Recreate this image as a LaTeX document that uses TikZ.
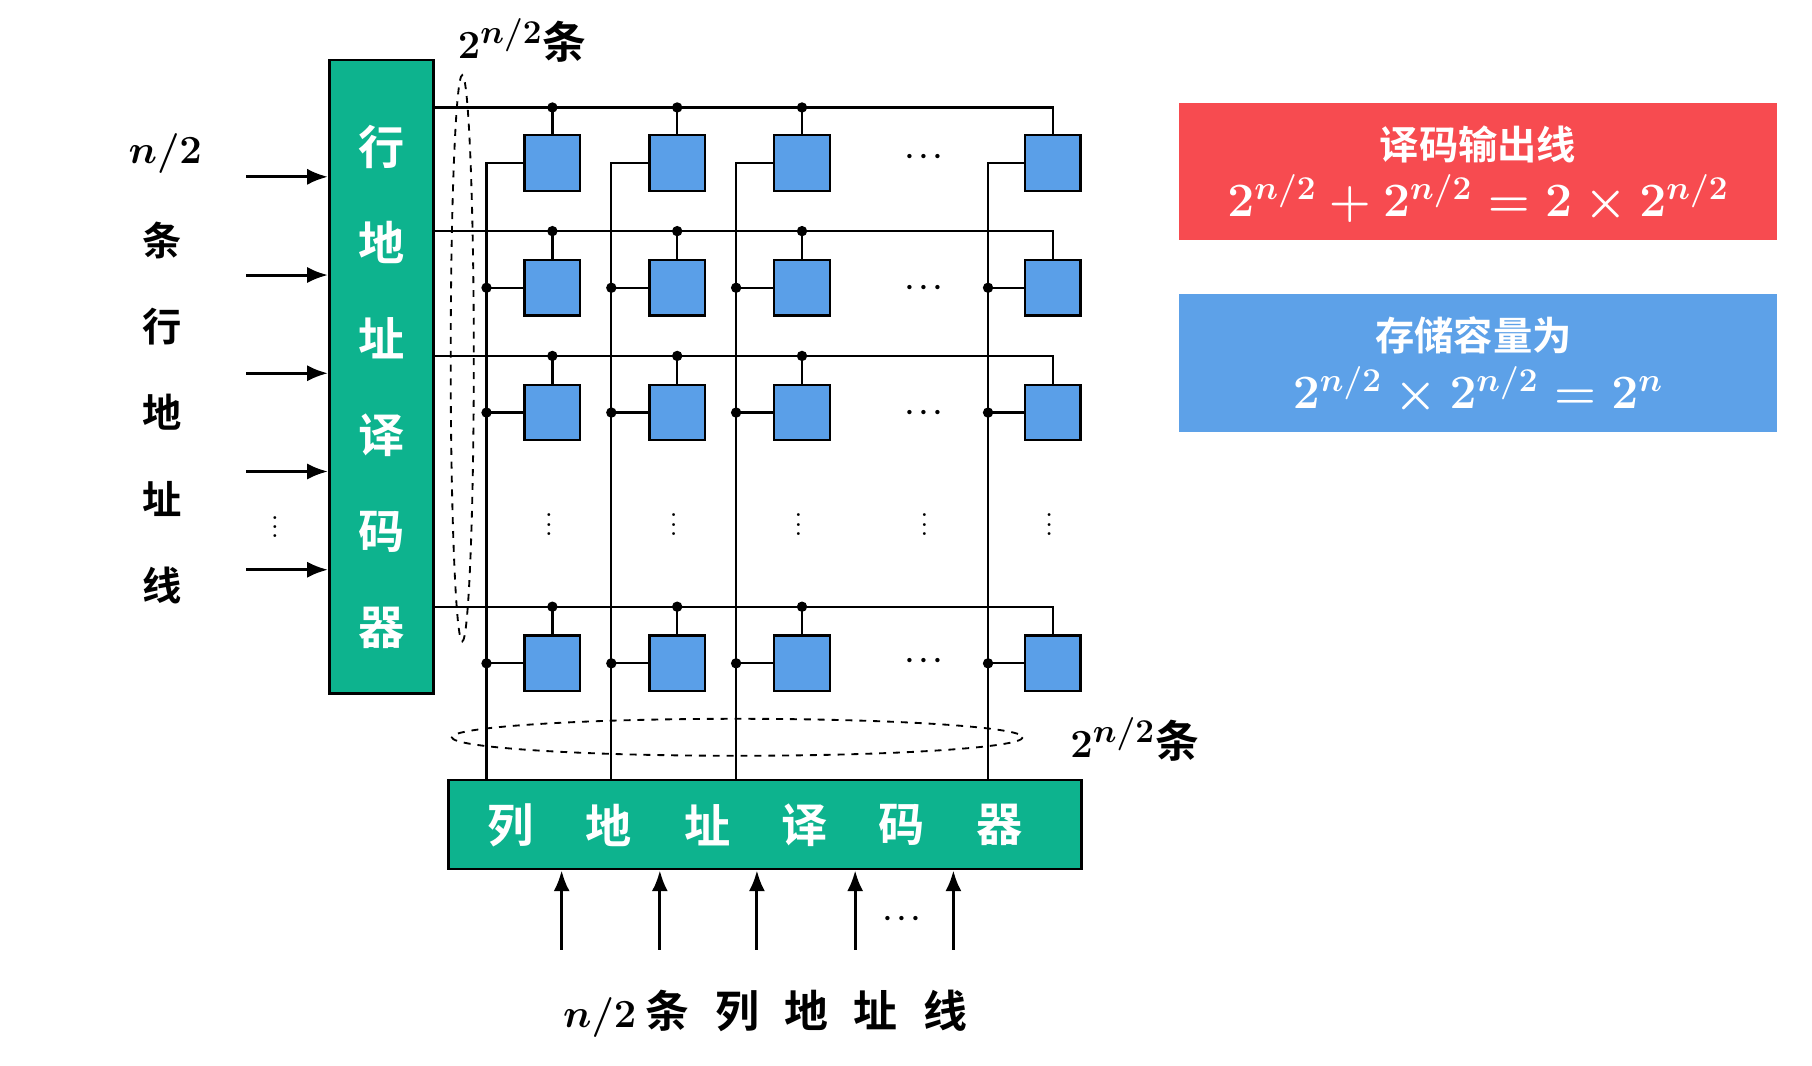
\documentclass[tikz,border=0pt]{standalone}
\usepackage{fontspec}
\usepackage{amsmath}
\newfontfamily\cjk{Noto Sans CJK SC Bold}
\usetikzlibrary{arrows.meta}
\definecolor{grn}{HTML}{0DB38E}
\definecolor{cell}{HTML}{5A9FE8}
\definecolor{redbox}{HTML}{F74B50}
\definecolor{bluebox}{HTML}{5DA1E8}
\tikzset{
 dec/.style={draw=black,line width=1.2pt,fill=grn},
 cellbox/.style={draw=black,line width=1pt,fill=cell,minimum width=24pt,minimum height=24pt,inner sep=0pt},
 wire/.style={line width=1pt},
 jdot/.style={circle,fill=black,inner sep=0pt,minimum size=4.5pt},
 arr/.style={line width=1.3pt,-{Latex[length=9pt,width=7pt]}},
 lab/.style={font=\cjk\fontsize{17}{17}\selectfont},
 wlab/.style={font=\cjk\fontsize{20}{20}\selectfont,text=white},
 ell/.style={draw,dashed,line width=0.8pt},
 dts/.style={font=\fontsize{13}{13}\selectfont\boldmath,inner sep=0pt},
 fml/.style={text=white,font=\fontsize{20}{20}\selectfont\boldmath}
}
\begin{document}
\begin{tikzpicture}[x=0.5pt,y=-0.5pt]
\useasboundingbox (0,0) rectangle (1568,921.6);
% row decoder
\node[dec,minimum width=45pt,minimum height=274pt,inner sep=0pt] (rd) at (330,326) {};
\foreach \t/\y in {行/127,地/210,址/293,译/377,码/460,器/543}
  \node[wlab] at (330,\y) {\t};
% left labels
\node[font=\fontsize{19}{19}\selectfont\boldmath] (nl) at (143,133) {$n/2$};
\foreach \t/\y in {条/208,行/283,地/357,址/432,线/507}
  \node[lab] at (140,\y) {\t};
\foreach \y [count=\i] in {153,238,323,408,493}{
  \coordinate (la\i) at (213,\y);
  \draw[arr] (la\i) -- (rd.west |- la\i);
}
\node[dts] at (238,450) {$\vdots$};
% cells
\foreach \r/\y in {1/141,2/249,3/357,4/574}{
  \foreach \c/\x in {1/478,2/586,3/694,4/911}
    \node[cellbox] (c\r\c) at (\x,\y) {};
}
% row lines
\foreach \r/\y in {1/93,2/200,3/308,4/525}{
  \coordinate (rs\r) at (375,\y);
  \coordinate (re\r) at (c\r4.north |- rs\r);
  \draw[wire] (rs\r) -- (re\r) -- (c\r4.north);
  \foreach \c in {1,2,3}{
    \draw[wire] (c\r\c.north |- rs\r) -- (c\r\c.north);
    \node[jdot] at (c\r\c.north |- rs\r) {};
  }
}
% column decoder
\node[dec,minimum width=274pt,minimum height=38.5pt,inner sep=0pt] (cd) at (662,713.5) {};
\foreach \t/\x in {列/442,地/527,址/612,译/696,码/780,器/865}
  \node[wlab] at (\x,714) {\t};
% column lines
\foreach \c/\x in {1/421,2/529,3/637,4/855}{
  \coordinate (ct\c) at (\x,141);
  \draw[wire] (c1\c.west) -- (ct\c) -- (ct\c |- cd.north);
  \foreach \r in {2,3,4}{
    \draw[wire] (ct\c |- c\r\c.west) -- (c\r\c.west);
    \node[jdot] at (ct\c |- c\r\c.west) {};
  }
}
% dots
\foreach \y in {136,249,357,572} \node[dts] at (802,\y) {$\cdots$};
\foreach \x in {475,583,691,800,908} \node[dts] at (\x,448) {$\vdots$};
% ellipses
\draw[ell] (400,310) ellipse [x radius=10, y radius=245];
\draw[ell] (638,638) ellipse [x radius=247, y radius=16];
\node[font=\fontsize{19}{19}\selectfont\boldmath] at (452,35) {$2^{n/2}$\cjk 条};
\node[font=\fontsize{19}{19}\selectfont\boldmath] at (982,640) {$2^{n/2}$\cjk 条};
% bottom arrows
\foreach \x [count=\i] in {486,571,655,740,825}{
  \coordinate (ba\i) at (\x,822);
  \draw[arr] (ba\i) -- (ba\i |- cd.south);
}
\node[dts] at (783,795) {$\cdots$};
\node[font=\fontsize{19}{19}\selectfont\boldmath] at (662,877) {$n/2$\hspace{4pt}{\cjk 条\hspace{11pt}列\hspace{11pt}地\hspace{11pt}址\hspace{11pt}线}};
% info boxes
\node[fill=redbox,minimum width=259pt,minimum height=59.5pt,inner sep=0pt] (rb) at (1279,148.5) {};
\node[lab,text=white] at (1279,125) {译码输出线};
\node[fml] at (1279,172) {$2^{n/2}+2^{n/2}=2\times 2^{n/2}$};
\node[fill=bluebox,minimum width=259pt,minimum height=60pt,inner sep=0pt] (bb) at (1279,314) {};
\node[lab,text=white] at (1275,290) {存储容量为};
\node[fml] at (1279,338) {$2^{n/2}\times 2^{n/2}=2^{n}$};
\end{tikzpicture}
\end{document}
